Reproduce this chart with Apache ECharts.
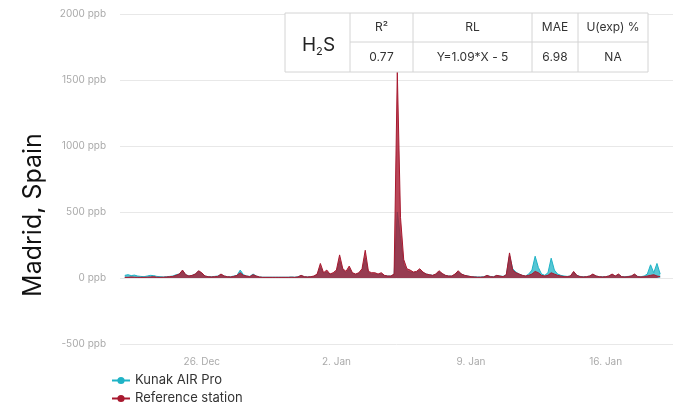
<!DOCTYPE html>
<html><head><meta charset="utf-8">
<script src="https://cdn.jsdelivr.net/npm/echarts@6/dist/echarts.min.js"></script>
<style>html,body{margin:0;padding:0;background:#fff}#c{width:683px;height:407px}</style>
</head><body><div id="c"></div>
<script>
// ---- data ----
const seriesNames = ['Kunak AIR Pro', 'Reference station'];
const seriesColors = ['#1fb3c6', '#a8192f'];
const startTime = Date.UTC(2023, 11, 22, 0);   // first sample
const stepHours = 4;                             // sampling step
// Kunak AIR Pro (ppb), 6 samples per day from 22 Dec
const kunak = [
  20,25,18,22,15,12,  10,15,20,18,12,10,  8,10,12,15,25,30,  55,25,15,20,30,50,
  35,15,10,10,12,15,  25,15,10,10,15,20,  60,25,15,12,30,15,  8,6,6,6,6,6,
  6,6,6,6,8,6,        10,18,10,8,10,12,   25,80,35,45,25,30,  45,130,60,40,70,35,
  25,35,55,150,40,30, 30,25,30,18,15,15,  25,500,300,100,55,45, 40,45,55,40,30,25,
  20,25,45,30,20,15,  15,25,45,30,20,15,  10,10,8,8,10,18,    12,10,18,15,12,25,
  170,70,45,30,20,15, 30,60,165,80,30,20, 40,150,60,30,20,15, 12,15,45,20,12,10,
  10,15,25,15,10,10,  10,15,25,15,25,10,  10,12,15,25,12,10,  15,30,100,40,110,30
];
// Reference station (ppb)
const reference = [
  5,5,8,6,5,5,        5,6,8,10,6,5,       6,8,10,12,20,30,    60,25,15,20,30,55,
  40,15,10,8,10,12,   30,15,10,8,12,20,   40,20,15,10,25,15,  8,5,5,5,5,5,
  5,5,5,5,6,5,        8,20,10,8,10,15,    30,110,40,60,30,40, 60,175,70,50,90,40,
  30,40,70,210,50,40, 40,30,40,20,15,15,  30,1560,460,140,70,60, 45,50,70,45,30,25,
  20,30,55,35,20,15,  15,30,55,30,20,15,  10,8,6,6,8,20,      10,8,20,15,10,25,
  190,60,40,30,20,15, 20,30,50,40,20,15,  20,40,30,20,15,10,  10,15,50,20,10,8,
  10,15,30,15,10,8,   10,15,30,15,30,10,  8,10,15,30,10,8,    10,15,20,25,15,10
];
const tickDates = [Date.UTC(2023,11,26), Date.UTC(2024,0,2), Date.UTC(2024,0,9), Date.UTC(2024,0,16)];
const tickLabels = ['26. Dec', '2. Jan', '9. Jan', '16. Jan'];
const yMin = -500, yMax = 2000, yStep = 500, yUnit = 'ppb';
const yTitle = 'Madrid, Spain';
const tableHeader = ['R²', 'RL', 'MAE', 'U(exp) %'];
const tableValues = ['0.77', 'Y=1.09*X - 5', '6.98', 'NA'];

// ---- build ----
const H = 3600 * 1000;
const toPairs = arr => arr.map((v, i) => [startTime + i * stepHours * H, v]);

const chart = echarts.init(document.getElementById('c'), null, {renderer: 'canvas'});
const FONT = 'Inter, "Noto Sans", sans-serif';

// table geometry
const colX = [285, 350, 413, 532, 578, 648];
const rowY = [13, 42, 72];
const stroke = '#d4d4d4';
const g = [];
g.push({type: 'rect', shape: {x: colX[0], y: rowY[0], width: colX[5]-colX[0], height: rowY[2]-rowY[0]},
  style: {fill: '#fff', stroke: stroke, lineWidth: 1}, z: 100});
g.push({type: 'line', shape: {x1: colX[1], y1: rowY[1], x2: colX[5], y2: rowY[1]}, style: {stroke: stroke, lineWidth: 1}, z: 101});
for (let i = 1; i < 5; i++) {
  g.push({type: 'line', shape: {x1: colX[i], y1: rowY[0], x2: colX[i], y2: rowY[2]}, style: {stroke: stroke, lineWidth: 1}, z: 101});
}
for (let i = 0; i < 4; i++) {
  const cx = (colX[i+1] + colX[i+2]) / 2;
  g.push({type: 'text', x: cx, y: (rowY[0]+rowY[1])/2, z: 102,
    style: {text: tableHeader[i], align: 'center', verticalAlign: 'middle', fontSize: 12, fill: '#333', fontFamily: FONT}});
  g.push({type: 'text', x: cx, y: (rowY[1]+rowY[2])/2, z: 102,
    style: {text: tableValues[i], align: 'center', verticalAlign: 'middle', fontSize: 12, fill: '#333', fontFamily: FONT}});
}
// H2S with subscript
g.push({type: 'text', x: 302, y: 45, z: 102, style: {text: 'H', align: 'left', verticalAlign: 'middle', fontSize: 19, fill: '#222', fontFamily: FONT}});
g.push({type: 'text', x: 316, y: 52, z: 102, style: {text: '2', align: 'left', verticalAlign: 'middle', fontSize: 11, fill: '#222', fontFamily: FONT}});
g.push({type: 'text', x: 323, y: 45, z: 102, style: {text: 'S', align: 'left', verticalAlign: 'middle', fontSize: 19, fill: '#222', fontFamily: FONT}});
// y title
g.push({type: 'text', x: 33, y: 215, rotation: Math.PI/2, z: 102,
  style: {text: yTitle, align: 'center', verticalAlign: 'middle', fontSize: 25, fill: '#111', fontFamily: FONT}});

chart.setOption({
  animation: false,
  backgroundColor: '#fff',
  grid: {left: 120, right: 10, top: 14, bottom: 63, containLabel: false},
  legend: {
    orient: 'vertical', left: 111, top: 374, padding: 0, itemGap: 5, itemWidth: 18, itemHeight: 9,
    textStyle: {fontSize: 13, color: '#333', fontFamily: FONT},
    data: seriesNames
  },
  xAxis: {
    type: 'value',
    min: Date.UTC(2023, 11, 21, 18), max: Date.UTC(2024, 0, 19, 12),
    splitLine: {show: false}, axisLine: {show: false}, axisTick: {show: false},
    axisLabel: {
      customValues: tickDates, margin: 13, fontSize: 10, color: '#aaa', fontFamily: FONT,
      formatter: v => { const k = tickDates.indexOf(v); return k >= 0 ? tickLabels[k] : ''; }
    }
  },
  yAxis: {
    type: 'value', min: yMin, max: yMax, interval: yStep,
    axisLabel: {formatter: v => v + ' ' + yUnit, fontSize: 10, color: '#aaa', margin: 14, fontFamily: FONT},
    splitLine: {lineStyle: {color: '#e8e8e8', width: 1}},
    axisLine: {show: false}, axisTick: {show: false}
  },
  series: [
    {name: seriesNames[0], type: 'line', data: toPairs(kunak), color: seriesColors[0],
     showSymbol: false, symbol: 'circle', symbolSize: 8, lineStyle: {width: 1},
     areaStyle: {opacity: 0.75}, z: 2},
    {name: seriesNames[1], type: 'line', data: toPairs(reference), color: seriesColors[1],
     showSymbol: false, symbol: 'circle', symbolSize: 8, lineStyle: {width: 1},
     areaStyle: {opacity: 0.8}, z: 3}
  ],
  graphic: g
});
</script></body></html>
